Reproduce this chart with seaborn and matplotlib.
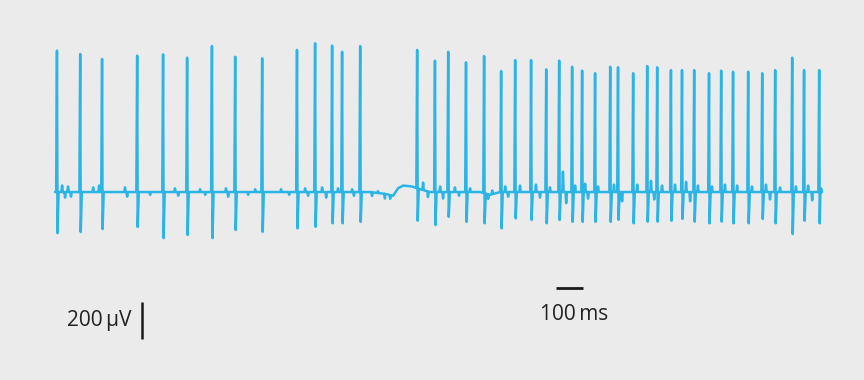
import numpy as np
import pandas as pd
import matplotlib
matplotlib.use("Agg")
import matplotlib.pyplot as plt
import seaborn as sns

# Spike train (time in ms from trace start, amplitudes in µV)
spike_times = [7, 93, 174, 304, 400, 489, 581, 667, 767, 896, 963, 1026, 1063, 1130,
               1341, 1407, 1456, 1522, 1589, 1652, 1704, 1763, 1819, 1867, 1915, 1952,
               2000, 2056, 2085, 2141, 2193, 2230, 2281, 2322, 2367, 2422, 2467, 2511,
               2567, 2619, 2667, 2730, 2774, 2830]
spike_peaks = [764, 746, 719, 737, 744, 726, 789, 731, 723, 768, 804, 791, 758, 789,
               768, 710, 758, 701, 735, 654, 713, 713, 663, 710, 677, 656,
               642, 677, 674, 642, 681, 674, 659, 659, 659, 642, 656, 650,
               650, 642, 659, 726, 659, 659]
spike_troughs = [-222, -216, -200, -189, -249, -232, -249, -205, -215, -196, -188, -169, -169, -161,
                 -155, -178, -134, -161, -169, -196, -142, -151, -169, -151, -161, -161,
                 -161, -161, -150, -169, -160, -160, -155, -145, -160, -169, -160, -169,
                 -169, -145, -169, -227, -155, -169]

# Small deflections on the baseline
blip_times = [26, 37, 48, 59, 141, 163, 259, 267, 352, 444, 456, 537, 556, 633, 641, 715,
              741, 837, 867, 926, 937, 989, 1004, 1048, 1100, 1107, 1174, 1196, 1222, 1241,
              1363, 1381, 1426, 1437, 1481, 1496, 1537, 1604, 1619, 1667, 1678, 1722, 1781,
              1796, 1833, 1881, 1893, 1926, 1963, 1974, 2011, 2070, 2100, 2156, 2207, 2219,
              2248, 2296, 2337, 2352, 2381, 2433, 2481, 2526, 2581, 2633, 2648, 2685, 2744,
              2789, 2804, 2837]
blip_amps = [35, -30, 30, -25, 25, 35, 25, -25, -15, 20, -20, 15, -15, 20, -25, -15,
             15, 15, -15, 20, -20, 25, -30, 20, 15, -20, -20, 10, -25, -20,
             40, -30, 30, -35, 25, -20, 20, -25, 20, 30, -25, 35, 40,
             -30, 25, 110, -60, 35, 45, -35, 30, 40, -50, 40, 60, -40,
             35, 40, 55, -50, 35, 30, 40, 35, 30, 40, -40, 25, 30,
             35, -45, 20]

# Slow baseline drift
drift_times = [0, 1167, 1222, 1252, 1270, 1289, 1322, 1352, 1389, 1574, 1611, 1648, 2841]
drift_vals = [0, 0, -10, -20, 20, 35, 30, 15, 0, 0, -15, 0, 0]

scale_time = 100   # ms
scale_volt = 200   # µV

color = "#2bb4e6"
bg = "#ebebeb"

# build trace
base = lambda t: np.interp(t, drift_times, drift_vals)
pts = [(t, base(t)) for t in drift_times]
for t, p, tr in zip(spike_times, spike_peaks, spike_troughs):
    pts += [(t - 3, base(t - 3)), (t, p), (t + 2, tr), (t + 6, base(t + 6))]
for t, a in zip(blip_times, blip_amps):
    pts += [(t - 2.5, base(t - 2.5)), (t, base(t) + a), (t + 2.5, base(t + 2.5))]
pts = [p for p in pts if 0 <= p[0] <= drift_times[-1]]
df = pd.DataFrame(sorted(pts), columns=["time", "uV"])

sns.set_style("white")
plt.rcParams["font.family"] = ["Open Sans", "DejaVu Sans"]

fig = plt.figure(figsize=(8.64, 3.8), dpi=100, facecolor=bg)
ax = fig.add_axes([0, 0, 1, 1])
ax.set_facecolor(bg)

sns.lineplot(data=df, x="time", y="uV", sort=False, estimator=None,
             color=color, lw=1.8, ax=ax)

# scale bars
ax.plot([322, 322], [-595, -595 - scale_volt], color="#1a1a1a", lw=1.8, solid_capstyle="butt")
ax.text(282, -697, "200\u2009µV", ha="right", va="center", fontsize=15, color="#222222")
ax.plot([1856, 1856 + scale_time], [-519, -519], color="#1a1a1a", lw=2, solid_capstyle="butt")
ax.text(1924, -662, "100\u2009ms", ha="center", va="center", fontsize=15, color="#222222")

ax.set_xlim(-204, 2996)
ax.set_ylim(-1016, 1038)
ax.axis("off")

fig.savefig("out.png", dpi=100, facecolor=bg)
